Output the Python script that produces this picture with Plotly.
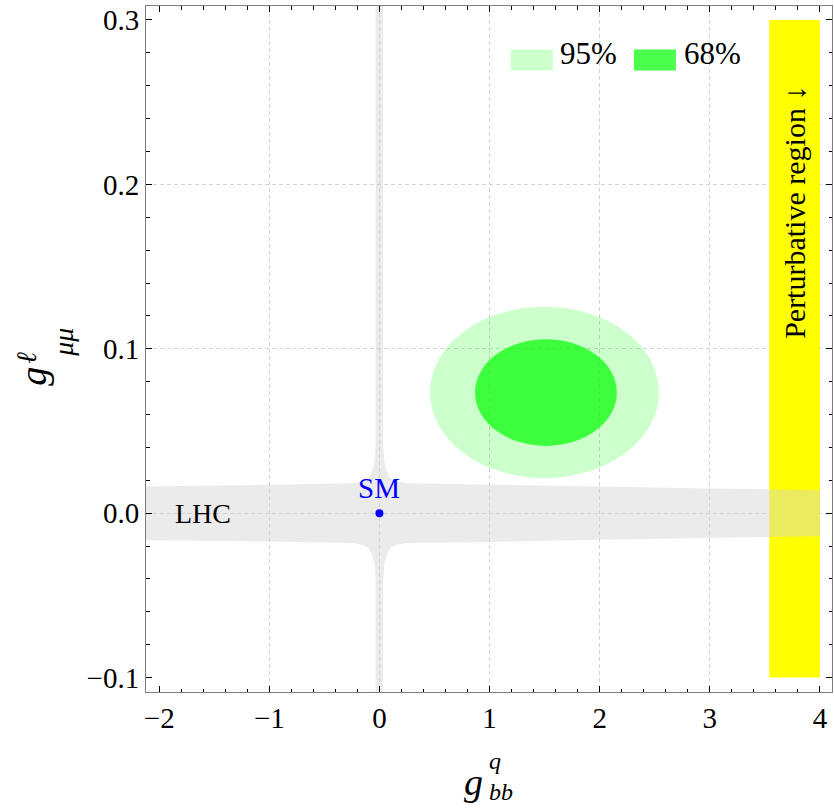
import plotly.graph_objects as go

# ---- axes ----
x_range = [-2.12, 4.11]
y_range = [-0.1088, 0.3085]
x_ticks = [-2, -1, 0, 1, 2, 3, 4]
y_ticks = [-0.1, 0.0, 0.1, 0.2, 0.3]
x_grid = [-1, 0, 1, 2, 3]
y_grid = [0.0, 0.1, 0.2]

# ---- LHC band ----
band_x = [-2.2, -1.0, -0.25, 0.25, 1.0, 2.0, 3.0, 4.0]
band_top = [0.0162, 0.0172, 0.0182, 0.0182, 0.0175, 0.0162, 0.0150, 0.0140]
band_bot = [-0.0164, -0.0172, -0.0182, -0.0182, -0.0175, -0.0162, -0.0150, -0.0140]
stem_w = 0.033
stem_y = [-0.12, 0.32]
# flare where the vertical stem meets the band (one quadrant, mirrored)
cusp_dx = [0.033, 0.034, 0.048, 0.068, 0.097, 0.15, 0.25]
cusp_dy = [0.045, 0.040, 0.0294, 0.0253, 0.0214, 0.0192, 0.0182]

# ---- fit regions (ellipse bounds) ----
ell95_x = [0.459, 2.538]
ell95_y = [0.0213, 0.1256]
ell68_x = [0.868, 2.156]
ell68_y = [0.0409, 0.1058]

# ---- perturbative region ----
pert_x = [3.54, 4.0]
pert_y = [-0.1, 0.3]

# ---- SM point ----
sm_x = [0.0]
sm_y = [0.0]

FONT = "Liberation Serif"

# build LHC outline
ur = list(zip(cusp_dx, cusp_dy))
lr = [(dx, -dy) for dx, dy in reversed(ur)]
ll = [(-dx, -dy) for dx, dy in ur]
ul = [(-dx, dy) for dx, dy in reversed(ur)]
right = [i for i, x in enumerate(band_x) if x > 0.25]
left = [i for i, x in enumerate(band_x) if x < -0.25]
pts = [(-stem_w, stem_y[1]), (stem_w, stem_y[1])] + ur
pts += [(band_x[i], band_top[i]) for i in right]
pts += [(band_x[i], band_bot[i]) for i in reversed(right)]
pts += lr + [(stem_w, stem_y[0]), (-stem_w, stem_y[0])] + ll
pts += [(band_x[i], band_bot[i]) for i in reversed(left)]
pts += [(band_x[i], band_top[i]) for i in left]
pts += ul + [pts[0]]
lhc_x = [p[0] for p in pts]
lhc_y = [p[1] for p in pts]

fig = go.Figure()

fig.add_trace(go.Scatter(
    x=[pert_x[0], pert_x[1], pert_x[1], pert_x[0], pert_x[0]],
    y=[pert_y[0], pert_y[0], pert_y[1], pert_y[1], pert_y[0]],
    fill='toself', fillcolor='#ffff00', mode='lines', line=dict(width=0),
    showlegend=False, hoverinfo='skip'))

fig.add_trace(go.Scatter(
    x=lhc_x, y=lhc_y, fill='toself', fillcolor='rgba(210,210,210,0.45)',
    mode='lines', line=dict(width=0), showlegend=False, hoverinfo='skip'))

fig.add_trace(go.Scatter(
    x=sm_x, y=sm_y, mode='markers', marker=dict(color='#0000ff', size=8),
    showlegend=False))

# dummy trace for the grid-only overlay axes
fig.add_trace(go.Scatter(x=[None], y=[None], xaxis='x2', yaxis='y2',
                         showlegend=False, hoverinfo='skip'))

fig.add_shape(type='circle', xref='x', yref='y', layer='between',
              x0=ell95_x[0], x1=ell95_x[1], y0=ell95_y[0], y1=ell95_y[1],
              fillcolor='rgba(0,255,0,0.2)', line=dict(width=0))
fig.add_shape(type='circle', xref='x', yref='y', layer='between',
              x0=ell68_x[0], x1=ell68_x[1], y0=ell68_y[0], y1=ell68_y[1],
              fillcolor='rgba(0,255,0,0.7)', line=dict(width=0))

# plot area in pixels (for legend / titles)
L, R, T, B = 146.3, 832.0, 5.5, 692.3


def px(x):
    return (x - L) / (R - L)


def py(y):
    return (B - y) / (B - T)


# legend
legend_items = [('95%', '#ccffcc', 511, 553, 558), ('68%', '#4cff4c', 634, 676, 682)]
for label, col, x0, x1, tx in legend_items:
    fig.add_shape(type='rect', xref='paper', yref='paper', layer='above',
                  x0=px(x0), x1=px(x1), y0=py(70), y1=py(49),
                  fillcolor=col, line=dict(width=0))
    fig.add_annotation(xref='paper', yref='paper', x=px(tx), y=py(53),
                       xanchor='left', yanchor='middle', showarrow=False,
                       text=label, font=dict(family=FONT, size=31, color='black'))

# in-plot labels
fig.add_annotation(x=-1.6, y=0.0, text='LHC', showarrow=False,
                   font=dict(family=FONT, size=28, color='black'))
fig.add_annotation(x=0.0, y=0.0153, text='SM', showarrow=False,
                   font=dict(family=FONT, size=29, color='#0000ff'))
fig.add_annotation(x=sum(pert_x) / 2, y=0.183, text='Perturbative region ↓',
                   textangle=-90, showarrow=False,
                   font=dict(family=FONT, size=30, color='black'))

# axis titles: base letter plus super/subscripts placed by hand
fig.add_annotation(xref='paper', yref='paper', x=px(474), y=py(782),
                   xanchor='center', yanchor='middle', showarrow=False,
                   text='<i>g</i>', font=dict(family=FONT, size=38, color='black'))
fig.add_annotation(xref='paper', yref='paper', x=px(487), y=py(777),
                   xanchor='left', yanchor='middle', showarrow=False, align='left',
                   text='<i>q</i><br><i>bb</i>',
                   font=dict(family=FONT, size=24, color='black'))
y_title_parts = [
    # text, size, px x, px y
    ('<i>g</i>', 38, 33, 376),
    ('<i>ℓ</i>', 28, 26, 358),
    ('<i>μμ</i>', 28, 63, 342),
]
for txt, size, x, y in y_title_parts:
    fig.add_annotation(xref='paper', yref='paper', x=px(x), y=py(y),
                       xanchor='center', yanchor='middle', showarrow=False,
                       textangle=-90, text=txt,
                       font=dict(family=FONT, size=size, color='black'))

axis_common = dict(
    showgrid=False, zeroline=False, showline=True, linecolor='#7f7f7f',
    linewidth=1, mirror='ticks', ticks='inside', ticklen=6, tickwidth=1,
    tickcolor='black', tickfont=dict(family=FONT, size=29, color='black'),
)

fig.update_layout(
    width=834, height=808,
    margin=dict(l=L, r=834 - R, t=T, b=808 - B),
    paper_bgcolor='white', plot_bgcolor='white',
    showlegend=False,
    xaxis=dict(range=x_range, tickvals=x_ticks, tickformat='d',
               minor=dict(tickmode='linear', tick0=0, dtick=0.2, ticks='inside',
                          ticklen=3.5, tickcolor='black'),
               **axis_common),
    yaxis=dict(range=y_range, tickvals=y_ticks, tickformat='.1f',
               minor=dict(tickmode='linear', tick0=0, dtick=0.02, ticks='inside',
                          ticklen=3.5, tickcolor='black'),
               **axis_common),
    xaxis2=dict(overlaying='x', anchor='y2', range=x_range, tickvals=x_grid,
                showgrid=True, gridcolor='#d4d4d4', griddash='4px,3px', gridwidth=1,
                showticklabels=False, ticks='', showline=False, zeroline=False),
    yaxis2=dict(overlaying='y', anchor='x2', range=y_range, tickvals=y_grid,
                showgrid=True, gridcolor='#d4d4d4', griddash='4px,3px', gridwidth=1,
                showticklabels=False, ticks='', showline=False, zeroline=False),
)

# page body has a default 8px margin; drop it so the figure fills the window
fig.write_html("out.html", config={'displayModeBar': False},
               post_script="document.body.style.margin='0';")
